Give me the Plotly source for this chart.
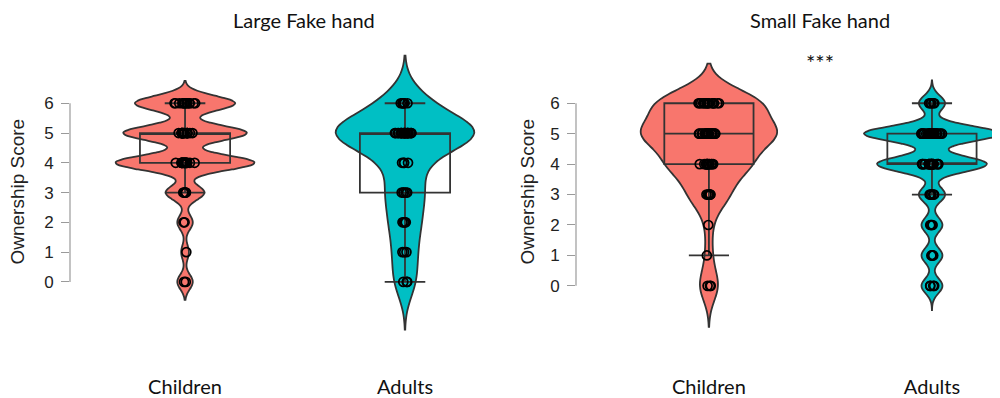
import numpy as np
import plotly.graph_objects as go
from plotly.subplots import make_subplots

# scores 0..6, counts
scores = [0, 1, 2, 3, 4, 5, 6]
groups = ["Children", "Adults"]
large_children = [2, 1, 2, 5, 18, 16, 13]
large_adults = [3, 3, 4, 5, 4, 22, 6]
small_children = [3, 1, 1, 6, 12, 20, 16]
small_adults = [4, 4, 4, 5, 21, 26, 5]
yticks = [0, 1, 2, 3, 4, 5, 6]

RED = "#F8766D"
TEAL = "#00BFC4"
EDGE = "#333333"

# page body has an 8px margin, so the figure is 992x390 and sits at (8, 8)
W, H = 992, 390


def px(x):
    return (x - 8) / W


def py(y):
    return 1 - (y - 8) / H


def expand(counts):
    return np.repeat(scores, counts)


fig = make_subplots(rows=1, cols=2)

panels = [
    # (col, data per group, bandwidths, spans, violin width, box width)
    (1, [large_children, large_adults], [0.25, 0.6], [[-0.6, 6.75], [-1.6, 7.6]], 0.63, 0.41),
    (2, [small_children, small_adults], [0.5, 0.25], [[-1.35, 7.3], [-0.8, 6.75]], 0.61, 0.40),
]

for col, data, bws, spans, vw, bw in panels:
    for g, counts, band, span, color in zip(groups, data, bws, spans, [RED, TEAL]):
        y = expand(counts)
        x = [g] * len(y)
        fig.add_trace(go.Violin(
            x=x, y=y, fillcolor=color, opacity=1,
            line=dict(color=EDGE, width=1.8),
            bandwidth=band, spanmode="manual", span=span,
            scalemode="width", width=vw, points=False,
            box_visible=False, meanline_visible=False,
            showlegend=False, hoverinfo="skip",
        ), row=1, col=col)
        fig.add_trace(go.Box(
            x=x, y=y, fillcolor="rgba(0,0,0,0)",
            line=dict(color=EDGE, width=1.8),
            width=bw, whiskerwidth=0.45, quartilemethod="inclusive",
            boxpoints="all", jitter=0.24, pointpos=0,
            marker=dict(symbol="circle-open", color="black", size=9,
                        line=dict(width=1.7, color="black")),
            showlegend=False, hoverinfo="skip",
        ), row=1, col=col)

fig.update_layout(
    width=W, height=H,
    margin=dict(l=0, r=0, t=0, b=0),
    paper_bgcolor="white", plot_bgcolor="white",
    violinmode="overlay", boxmode="overlay",
    font=dict(family="Liberation Sans", color="#222"),
)

fig.update_xaxes(showgrid=False, zeroline=False, showline=False, ticks="",
                 tickfont=dict(family="Lato", size=20, color="#111"))
fig.update_xaxes(domain=[px(70), px(480)], range=[-0.523, 1.341], row=1, col=1)
fig.update_xaxes(domain=[px(576), px(1000)], range=[-0.596, 1.305], row=1, col=2)

fig.update_yaxes(showgrid=False, zeroline=False, showline=False,
                 tickvals=yticks, ticks="outside", ticklen=8, tickcolor="#9a9a9a",
                 tickfont=dict(size=17, color="#222"), ticklabelstandoff=4)
fig.update_yaxes(domain=[py(376), 1.0], range=[(284 - 376) / 30, (284 - 8) / 30], row=1, col=1)
fig.update_yaxes(domain=[py(376), 1.0], range=[(288 - 376) / 30.67, (288 - 8) / 30.67], row=1, col=2)

# axis lines only spanning the tick range (base-R style)
for xr, yr in [("x domain", "y"), ("x2 domain", "y2")]:
    fig.add_shape(type="line", xref=xr, yref=yr, x0=0, x1=0, y0=yticks[0], y1=yticks[-1],
                  line=dict(color="#9a9a9a", width=1.2))

# text
txt = dict(family="Lato", size=20, color="#111")
fig.add_annotation(text="Large Fake hand", xref="paper", yref="paper", x=px(304), y=py(20),
                   xanchor="center", yanchor="middle", showarrow=False, font=txt)
fig.add_annotation(text="Small Fake hand", xref="paper", yref="paper", x=px(820), y=py(20),
                   xanchor="center", yanchor="middle", showarrow=False, font=txt)
fig.add_annotation(text="***", xref="paper", yref="paper", x=px(820), y=py(63),
                   xanchor="center", yanchor="middle", showarrow=False,
                   font=dict(family="Lato", size=22, color="#111"))
for xp in [18, 528]:
    fig.add_annotation(text="Ownership Score", xref="paper", yref="paper", x=px(xp), y=py(193),
                       xanchor="center", yanchor="middle", textangle=-90, showarrow=False,
                       font=dict(family="Liberation Sans", size=19, color="#222"))

fig.write_html("out.html")
